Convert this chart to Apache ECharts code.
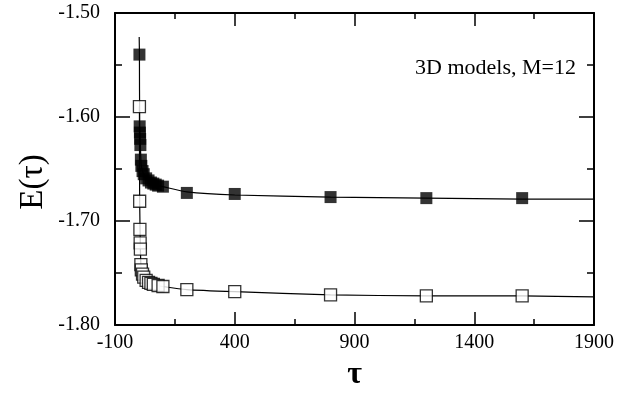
<!DOCTYPE html>
<html>
<head>
<meta charset="utf-8">
<script src="https://cdn.jsdelivr.net/npm/echarts@6/dist/echarts.min.js"></script>
<style>
html,body{margin:0;padding:0;background:#fff;}
#chart{width:631px;height:396px;}
</style>
</head>
<body>
<div id="chart"></div>
<script>
// ---- data ----
const tauFilled = [2, 3, 4, 5, 6, 8, 10, 15, 20, 30, 40, 50, 60, 70, 80, 100, 200, 400, 800, 1200, 1600];
const eFilled   = [-1.540, -1.609, -1.615, -1.621, -1.627, -1.641, -1.647, -1.652, -1.655, -1.659, -1.661, -1.663, -1.664, -1.665, -1.666, -1.667, -1.673, -1.674, -1.677, -1.678, -1.678];
const tauOpen   = [2, 3, 4, 5, 6, 8, 10, 15, 20, 30, 40, 50, 60, 80, 100, 200, 400, 800, 1200, 1600];
const eOpen     = [-1.590, -1.681, -1.708, -1.721, -1.727, -1.742, -1.747, -1.751, -1.754, -1.757, -1.759, -1.760, -1.761, -1.762, -1.763, -1.766, -1.768, -1.771, -1.772, -1.772];
// fitted curves
const fitFilledTau = [1, 2, 3, 6, 8, 10, 15, 20, 30, 50, 80, 100, 200, 400, 800, 1200, 1600, 1900];
const fitFilledE   = [-1.523, -1.540, -1.609, -1.627, -1.641, -1.647, -1.652, -1.655, -1.659, -1.663, -1.666, -1.667, -1.672, -1.675, -1.677, -1.678, -1.679, -1.679];
const fitOpenTau = [2, 3, 6, 8, 10, 15, 20, 30, 50, 80, 100, 200, 400, 800, 1200, 1600, 1900];
const fitOpenE   = [-1.590, -1.681, -1.727, -1.742, -1.747, -1.751, -1.754, -1.757, -1.760, -1.762, -1.763, -1.766, -1.768, -1.771, -1.772, -1.772, -1.773];
// axis ticks
const xMajorTicks = [-100, 400, 900, 1400, 1900];
const xMinorTicks = [150, 650, 1150, 1650];
const yMajorTicks = [-1.80, -1.70, -1.60, -1.50];
const yMinorTicks = [-1.75, -1.65, -1.55];
const xName = 'τ';
const yName = 'E(τ)';
const note = '3D models, M=12';

const FONT = 'Liberation Serif';
const zip = (a, b) => a.map((v, i) => [v, b[i]]);

const xBase = {type: 'value', min: -100, max: 1900, gridIndex: 0, splitLine: {show: false}};
const yBase = {type: 'value', min: -1.8, max: -1.5, gridIndex: 0, splitLine: {show: false}};
const lineStyle = {color: '#000', width: 2};

function xAxisDef(pos, major, showLabel, withName) {
  const t = major ? xMajorTicks : xMinorTicks;
  return Object.assign({}, xBase, {
    position: pos,
    axisLine: {show: major, onZero: false, lineStyle},
    axisTick: {show: true, inside: true, length: major ? 13 : 6, customValues: t, lineStyle: {color: '#000', width: 1.5}},
    axisLabel: {show: showLabel, customValues: xMajorTicks, color: '#000', fontFamily: FONT, fontSize: 20, margin: 8,
      formatter: v => String(v)},
    name: withName ? xName : '',
    nameLocation: 'middle',
    nameGap: 34,
    nameTextStyle: {color: '#000', fontFamily: FONT, fontSize: 32, fontWeight: 'bold'}
  });
}
function yAxisDef(pos, major, showLabel) {
  const t = major ? yMajorTicks : yMinorTicks;
  return Object.assign({}, yBase, {
    position: pos,
    axisLine: {show: major, onZero: false, lineStyle},
    axisTick: {show: true, inside: true, length: major ? 15 : 7, customValues: t, lineStyle: {color: '#000', width: 1.5}},
    axisLabel: {show: showLabel, customValues: yMajorTicks, color: '#000', fontFamily: FONT, fontSize: 20, margin: 15,
      formatter: v => v.toFixed(2)}
  });
}

const chart = echarts.init(document.getElementById('chart'), null, {renderer: 'canvas'});
chart.setOption({
  backgroundColor: '#fff',
  animation: false,
  grid: {left: 115, right: 37, top: 13, bottom: 62, containLabel: false},
  xAxis: [
    xAxisDef('bottom', true, true, true),
    xAxisDef('bottom', false, false, false),
    xAxisDef('top', true, false, false),
    xAxisDef('top', false, false, false)
  ],
  yAxis: [
    yAxisDef('left', true, true),
    yAxisDef('left', false, false),
    yAxisDef('right', true, false),
    yAxisDef('right', false, false)
  ],
  graphic: [
    {type: 'text', x: 415, y: 68,
      style: {text: note, fill: '#000', font: '22px "Liberation Serif"', textVerticalAlign: 'middle'}},
    {type: 'text', x: 33, y: 182, rotation: Math.PI / 2,
      style: {text: yName, fill: '#000', font: '33px "Liberation Serif"', textAlign: 'center', textVerticalAlign: 'middle'}}
  ],
  series: [
    {type: 'line', data: zip(fitFilledTau, fitFilledE), symbol: 'none', smooth: 0.2,
      lineStyle: {color: '#000', width: 1.2}, z: 2},
    {type: 'line', data: zip(fitOpenTau, fitOpenE), symbol: 'none', smooth: 0.2,
      lineStyle: {color: '#000', width: 1.2}, z: 2},
    {type: 'scatter', data: zip(tauFilled, eFilled), symbol: 'rect', symbolSize: 12,
      itemStyle: {color: '#000'}, z: 3},
    {type: 'scatter', data: zip(tauOpen, eOpen), symbol: 'rect', symbolSize: 12,
      itemStyle: {color: '#fff', borderColor: '#000', borderWidth: 1.3}, z: 4}
  ]
});
</script>
</body>
</html>
